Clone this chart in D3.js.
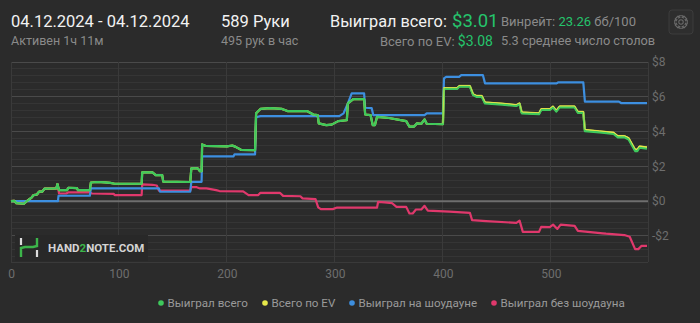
<!DOCTYPE html>
<html>
<head>
<meta charset="utf-8">
<script src="https://cdn.jsdelivr.net/npm/d3@7"></script>
<style>
  html, body { margin: 0; padding: 0; background: #2b2b2b; }
  svg { display: block; font-family: Roboto, "Noto Sans", sans-serif; }
</style>
</head>
<body>
<script>
// session summary
const dateRange = "04.12.2024 - 04.12.2024";
const activeText = "Активен 1ч 11м";
const handsText = "589 Руки";
const handsPerHour = "495 рук в час";
const wonTotal = "$3.01";
const evTotal = "$3.08";
const winrate = "23.26";
const avgTables = "5.3 среднее число столов";

// chart series: [hand, dollars]
const wonAll = [[0,0],[3,0.02],[5,-0.12],[12,-0.15],[15,0.02],[19,0.2],[21,0.35],[24,0.38],[26,0.55],[29,0.55],[31,0.72],[42,0.73],[43,0.98],[44.5,0.63],[52,0.63],[53,0.77],[61,0.75],[62,0.63],[73,0.63],[74,1.07],[80,1.1],[87,1.08],[92,1.05],[96,1.0],[121,1.0],[121.5,1.65],[131,1.65],[134,1.5],[140,1.5],[141,1.12],[166,1.1],[167,1.88],[173,1.88],[175,1.72],[176.5,1.72],[177,3.26],[180,3.18],[200,3.15],[205,3.2],[208,3.12],[213,2.95],[226,2.93],[227,5.05],[231,5.3],[240,5.35],[251,5.3],[256,5.18],[274,5.18],[280,4.98],[284,4.95],[285,4.47],[292,4.37],[297,4.4],[303,4.6],[311,4.65],[312,5.62],[317,5.87],[327,5.87],[328,4.98],[333,4.95],[335,4.37],[337,4.37],[339,4.85],[350,4.78],[366,4.6],[369,4.28],[373,4.28],[376,4.47],[380,4.45],[383,4.7],[385,4.45],[400,4.42],[401,6.45],[413,6.45],[415,6.58],[425,6.58],[428,6.1],[431,6.0],[436,6.0],[439,5.62],[455,5.55],[468,5.47],[471,5.58],[473,5.05],[489,5.0],[491,5.24],[499,5.24],[502,5.39],[505,5.15],[508,5.39],[522,5.39],[525,5.08],[530,5.08],[531.5,4.03],[545,3.95],[558,3.86],[562,3.67],[568,3.67],[572,3.55],[578,2.88],[580,2.88],[582,3.07],[589,3.01]];

const wonEV = [[0,0],[3,0.02],[5,-0.12],[12,-0.15],[15,0.02],[19,0.2],[21,0.35],[24,0.38],[26,0.55],[29,0.55],[31,0.72],[42,0.73],[43,0.98],[44.5,0.63],[52,0.63],[53,0.77],[61,0.75],[62,0.63],[73,0.63],[74,1.07],[80,1.1],[87,1.08],[92,1.05],[96,1.0],[121,1.0],[121.5,1.65],[131,1.65],[134,1.5],[140,1.5],[141,1.12],[166,1.1],[167,1.88],[173,1.88],[175,1.72],[176.5,1.72],[177,3.26],[180,3.18],[200,3.15],[205,3.2],[208,3.12],[213,2.95],[226,2.93],[227,5.05],[231,5.3],[240,5.35],[251,5.3],[256,5.18],[274,5.18],[280,4.98],[284,4.95],[285,4.47],[292,4.37],[297,4.4],[303,4.6],[311,4.65],[312,5.62],[317,5.87],[327,5.87],[328,4.98],[333,4.95],[335,4.37],[337,4.37],[339,4.85],[350,4.78],[366,4.6],[369,4.28],[373,4.28],[376,4.47],[380,4.45],[383,4.7],[385,4.45],[400,4.42],[401,6.48],[413,6.48],[415,6.61],[425,6.61],[428,6.13],[431,6.04],[436,6.04],[439,5.66],[455,5.59],[468,5.51],[471,5.61],[473,5.09],[489,5.04],[491,5.28],[499,5.28],[502,5.43],[505,5.19],[508,5.43],[522,5.43],[525,5.12],[530,5.12],[531.5,4.08],[545,4.0],[558,3.92],[562,3.73],[568,3.73],[572,3.61],[578,2.95],[580,2.95],[582,3.13],[589,3.08]];

const wonShowdown = [[0,0],[43.5,0],[44,0.31],[73,0.31],[74,0.73],[137,0.73],[138,0.54],[166,0.54],[167,1.11],[176.5,1.11],[177,2.57],[206,2.57],[207,2.69],[226,2.69],[227,4.82],[231,4.89],[304,4.89],[308,5.05],[312,5.62],[315.5,6.2],[327,6.2],[328,5.37],[334,5.35],[335.5,4.95],[383,4.95],[385,5.05],[400,5.05],[401,7.06],[403,7.15],[415,7.15],[417,7.25],[437,7.25],[439,6.77],[505,6.77],[507,6.83],[530,6.83],[531.5,5.72],[563,5.72],[565,5.64],[589,5.64]];

const wonNonShowdown = [[0,0],[3,0.02],[5,-0.12],[12,-0.15],[15,0.02],[19,0.2],[21,0.35],[24,0.38],[26,0.55],[29,0.55],[31,0.72],[42,0.73],[43,0.98],[44.5,0.44],[51,0.44],[53,0.5],[73,0.5],[75,0.44],[95,0.42],[96,0.35],[121,0.35],[121.5,0.96],[131,0.94],[135,0.9],[137,0.6],[166,0.6],[167,0.8],[172,0.8],[175,0.73],[181,0.73],[190,0.63],[193,0.58],[215,0.56],[220,0.35],[229,0.35],[231,0.48],[249,0.48],[252,0.3],[268,0.28],[270,0.16],[282,0.12],[284.5,-0.36],[287,-0.46],[298,-0.46],[302,-0.37],[339,-0.37],[340,-0.04],[346,-0.07],[353,-0.12],[357,-0.33],[366,-0.33],[369,-0.71],[372,-0.71],[375,-0.48],[380,-0.48],[383,-0.27],[386,-0.55],[406,-0.6],[425,-0.67],[427,-1.09],[440,-1.15],[468,-1.25],[471,-1.12],[474,-1.77],[489,-1.77],[491,-1.48],[499,-1.5],[502,-1.35],[506,-1.6],[509,-1.35],[522,-1.42],[525,-1.71],[548,-1.85],[551,-1.87],[568,-1.95],[573,-2.05],[578,-2.76],[581,-2.76],[584,-2.57],[589,-2.57]];

const seriesNames = ["Выиграл всего", "Всего по EV", "Выиграл на шоудауне", "Выиграл без шоудауна"];
const seriesColors = ["#3ec95c", "#e6e84a", "#3d8fe0", "#e0386c"];
const xTicks = [0, 100, 200, 300, 400, 500];
const yTicks = [-2, 0, 2, 4, 6, 8];

const width = 700, height = 323;
const textGreen = "#25c46c";

const svg = d3.select("body").append("svg")
    .attr("width", width)
    .attr("height", height);

svg.append("rect").attr("width", width).attr("height", height).attr("fill", "#2b2b2b");

// header
const head = svg.append("g");
head.append("text").attr("x", 11).attr("y", 27).attr("font-size", 16.5).attr("fill", "#f2f2f2").text(dateRange);
head.append("text").attr("x", 11).attr("y", 45).attr("font-size", 12.5).attr("fill", "#8a8a8a").text(activeText);
head.append("text").attr("x", 221).attr("y", 27).attr("font-size", 16.5).attr("fill", "#f2f2f2").text(handsText);
head.append("text").attr("x", 221).attr("y", 45).attr("font-size", 12.5).attr("fill", "#8a8a8a").text(handsPerHour);

const won = head.append("text").attr("x", 330).attr("y", 27).attr("font-size", 16.3).attr("fill", "#f2f2f2");
won.append("tspan").text("Выиграл всего:");
won.append("tspan").attr("x", 452).attr("font-size", 18.5).attr("fill", textGreen).text(wonTotal);

const ev = head.append("text").attr("x", 493).attr("y", 46).attr("font-size", 13).attr("fill", "#8a8a8a").attr("text-anchor", "end");
ev.append("tspan").text("Всего по EV: ");
ev.append("tspan").attr("fill", textGreen).attr("font-size", 14).text(evTotal);

const wr = head.append("text").attr("x", 501).attr("y", 26).attr("font-size", 13).attr("fill", "#8a8a8a");
wr.append("tspan").text("Винрейт: ");
wr.append("tspan").attr("fill", textGreen).text(winrate);
wr.append("tspan").text(" бб/100");
head.append("text").attr("x", 501).attr("y", 45).attr("font-size", 12.8).attr("fill", "#8a8a8a").text(avgTables);

// settings button
const gear = head.append("g").attr("transform", "translate(681,22)");
gear.append("rect").attr("x", -12).attr("y", -12).attr("width", 24).attr("height", 24).attr("rx", 3)
    .attr("fill", "#2e2e2e").attr("stroke", "#3c3c3c");
gear.append("path").attr("d", d3.line().curve(d3.curveLinearClosed)(d3.range(8).flatMap(k => {
    const a = k * Math.PI / 4;
    return [[a - 0.28, 6.5], [a + 0.28, 6.5], [a + 0.5, 4.8], [a + Math.PI / 4 - 0.5, 4.8]]
        .map(([t, r]) => [Math.cos(t) * r, Math.sin(t) * r]);
}))).attr("fill", "none").attr("stroke", "#6a6a6a").attr("stroke-width", 1.1);
gear.append("circle").attr("r", 2.2).attr("fill", "none").attr("stroke", "#6a6a6a").attr("stroke-width", 1.1);

// scales
const x = d3.scaleLinear().domain([0, 589]).range([11, 647]);
const y = d3.scaleLinear().domain([-3.5, 8]).range([262, 62]);

// grid
const grid = svg.append("g");
const minor = d3.range(-32, 81, 4).map(d => d / 10).filter(d => Math.abs(d % 2) > 0.01);
grid.selectAll(".minor").data(minor).enter().append("line")
    .attr("x1", x(0)).attr("x2", 648).attr("y1", d => y(d)).attr("y2", d => y(d))
    .attr("stroke", "#353535").attr("shape-rendering", "crispEdges");
grid.selectAll(".major").data(yTicks.filter(d => d !== 0)).enter().append("line")
    .attr("x1", x(0)).attr("x2", 648).attr("y1", d => y(d)).attr("y2", d => y(d))
    .attr("stroke", "#4a4a4a").attr("shape-rendering", "crispEdges");
grid.selectAll(".vert").data(xTicks).enter().append("line")
    .attr("x1", d => x(d)).attr("x2", d => x(d)).attr("y1", y(8)).attr("y2", y(-3.5))
    .attr("stroke", "#3a3a3a").attr("shape-rendering", "crispEdges");
grid.append("line").attr("x1", 648).attr("x2", 648).attr("y1", y(8)).attr("y2", y(-3.5))
    .attr("stroke", "#3a3a3a").attr("shape-rendering", "crispEdges");
grid.append("line").attr("x1", x(0)).attr("x2", 648).attr("y1", y(-3.5)).attr("y2", y(-3.5))
    .attr("stroke", "#3a3a3a").attr("shape-rendering", "crispEdges");
grid.append("line").attr("x1", x(0)).attr("x2", 648).attr("y1", y(0)).attr("y2", y(0))
    .attr("stroke", "#6e6e6e").attr("stroke-width", 2);

// watermark
const logo = svg.append("g");
logo.append("rect").attr("x", 15).attr("y", 235).attr("width", 133).attr("height", 26).attr("fill", "#282828");
logo.append("path").attr("d", "M21,257 V248 L25,247 H33 L37,246 V238")
    .attr("fill", "none").attr("stroke", "#3cb54a").attr("stroke-width", 2.4);
logo.append("line").attr("x1", 21).attr("x2", 21).attr("y1", 238).attr("y2", 245).attr("stroke", "#dcdcdc").attr("stroke-width", 2.2);
logo.append("line").attr("x1", 37).attr("x2", 37).attr("y1", 250).attr("y2", 257).attr("stroke", "#dcdcdc").attr("stroke-width", 2.2);
const logoText = logo.append("text").attr("x", 48).attr("y", 252).attr("font-size", 11.5)
    .attr("font-weight", 700).attr("fill", "#d4d4d4").attr("font-family", "Roboto");
logoText.append("tspan").text("HAND");
logoText.append("tspan").attr("fill", "#3cb54a").text("2");
logoText.append("tspan").text("NOTE.COM");

// axes
const xAxis = svg.append("g")
    .attr("transform", `translate(0,${y(-3.5)})`)
    .call(d3.axisBottom(x).tickValues(xTicks).tickSize(0).tickPadding(7));
const yAxis = svg.append("g")
    .attr("transform", "translate(648,0)")
    .call(d3.axisRight(y).tickValues(yTicks).tickSize(0).tickPadding(4)
        .tickFormat(d => (d < 0 ? "-$" : "$") + Math.abs(d)));
[xAxis, yAxis].forEach(a => {
    a.select(".domain").remove();
    a.selectAll("text").attr("fill", "#6e6e6e").attr("font-size", 12).attr("font-family", "Roboto");
});

// lines
const line = d3.line().x(d => x(d[0])).y(d => y(d[1]));
const drawOrder = [[wonNonShowdown, 3], [wonShowdown, 2], [wonEV, 1], [wonAll, 0]];
svg.append("g").selectAll("path").data(drawOrder).enter().append("path")
    .attr("d", d => line(d[0]))
    .attr("fill", "none")
    .attr("stroke", d => seriesColors[d[1]])
    .attr("stroke-width", 2.2)
    .attr("stroke-linejoin", "round");
// EV line drawn again as a thin edge so it shows above the total line
svg.append("path").attr("d", line(wonEV.filter(d => d[0] >= 400)))
    .attr("fill", "none").attr("stroke", seriesColors[1]).attr("stroke-width", 1)
    .attr("transform", "translate(0,-0.8)").attr("opacity", 0.8);

// legend
const legendX = [161, 265, 352, 494];
const legend = svg.append("g").selectAll("g").data(seriesNames).enter().append("g")
    .attr("transform", (d, i) => `translate(${legendX[i]},303)`);
legend.append("circle").attr("r", 2.8).attr("fill", (d, i) => seriesColors[i]);
legend.append("text").attr("x", 6.5).attr("y", 4.2).attr("font-size", 11.6).attr("fill", "#9a9a9a").text(d => d);
</script>
</body>
</html>
